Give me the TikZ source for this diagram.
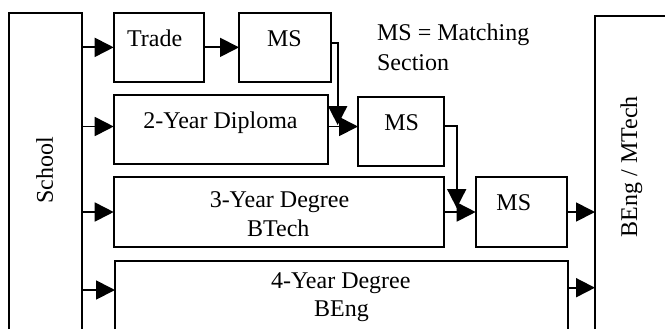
\documentclass[tikz,border=0pt]{standalone}
\usepackage{fontspec}
\setmainfont{Liberation Serif}
\usetikzlibrary{arrows.meta,fit,calc}
\begin{document}
\begin{tikzpicture}[x=0.5pt,y=-0.5pt,
  every node/.style={font=\fontsize{12pt}{14pt}\selectfont},
  box/.style={draw, line width=0.9pt, inner sep=0pt, outer sep=0pt},
  openbox/.style={inner sep=0pt, outer sep=0pt},
  lbl/.style={inner sep=0pt, anchor=base},
  arr/.style={line width=0.9pt, -{Triangle[length=9.5pt,width=9.5pt]}},
  edge/.style={line width=0.9pt}]
\useasboundingbox (0,0) rectangle (665,329);
% boxes
\node[openbox, fit={(9,13) (81.7,329)}] (school) {};
\node[openbox, fit={(595,16) (672,329)}] (beng) {};
\node[openbox, fit={(115,261) (568,329)}] (deg4) {};
\node[box, fit={(113.7,12.7) (204,82)}] (trade) {};
\node[box, fit={(239,12.7) (331,82)}] (ms1) {};
\node[box, fit={(113.7,95) (328,164)}] (dip) {};
\node[box, fit={(358,97) (444,166)}] (ms2) {};
\node[box, fit={(113.7,177) (444,247)}] (deg3) {};
\node[box, fit={(475.7,177) (567,247)}] (ms3) {};
\draw[edge] (school.south west) |- (school.north east) -- (school.south east);
\draw[edge] (beng.south west) |- (beng.north east);
\draw[edge] (deg4.south west) |- (deg4.north east) -- (deg4.south east);
% texts
\node[lbl, rotate=90] (tSchool) at (53,170.5) {School};
\node[lbl, rotate=90] (tBeng) at (637,166.7) {BEng / MTech};
\node[lbl] (tTrade) at (154.7,46) {Trade};
\node[lbl] (tMS1) at (284.5,46) {MS};
\node[lbl] (tDip) at (220.5,128.3) {2-Year Diploma};
\node[lbl, anchor=base west] (note1) at (376.7,40.7) {MS = Matching};
\node[lbl, anchor=base west] (note2) at (376.7,70) {Section};
\node[lbl] (tMS2) at (401.7,130) {MS};
\node[lbl] (tDeg3a) at (279.5,207.7) {3-Year Degree};
\node[lbl] (tDeg3b) at (278.3,236) {BTech};
\node[lbl] (tMS3) at (513.8,210) {MS};
\node[lbl] (tDeg4a) at (340.8,288.3) {4-Year Degree};
\node[lbl] (tDeg4b) at (341.5,316) {BEng};
% connectors
\coordinate (dipin) at ([yshift=1.5pt]dip.west);
\coordinate (dipout) at ([yshift=1.5pt]dip.east);
\coordinate (d4in) at ([yshift=-14.5pt]deg4.north west);
\coordinate (d4out) at ([yshift=-13.35pt]deg4.north east);
\coordinate (j1) at (337.7,125);
\coordinate (j2) at (456.7,208);
\draw[arr] (school.east |- trade.west) -- (trade.west);
\draw[arr] (trade.east) -- (ms1.west);
\draw[arr] (school.east |- dipin) -- (dipin);
\draw[arr] (dipout) -- (dipout -| ms2.west);
\draw[arr] ([yshift=2pt]ms1.east) -| (j1);
\draw[arr] (school.east |- deg3.west) -- (deg3.west);
\draw[arr] (deg3.east) -- (ms3.west);
\draw[arr] ([yshift=2.75pt]ms2.east) -| (j2);
\draw[arr] (ms3.east) -- (beng.west |- ms3.east);
\draw[arr] (school.east |- d4in) -- (d4in);
\draw[arr] (d4out) -- (beng.west |- d4out);
\end{tikzpicture}
\end{document}
